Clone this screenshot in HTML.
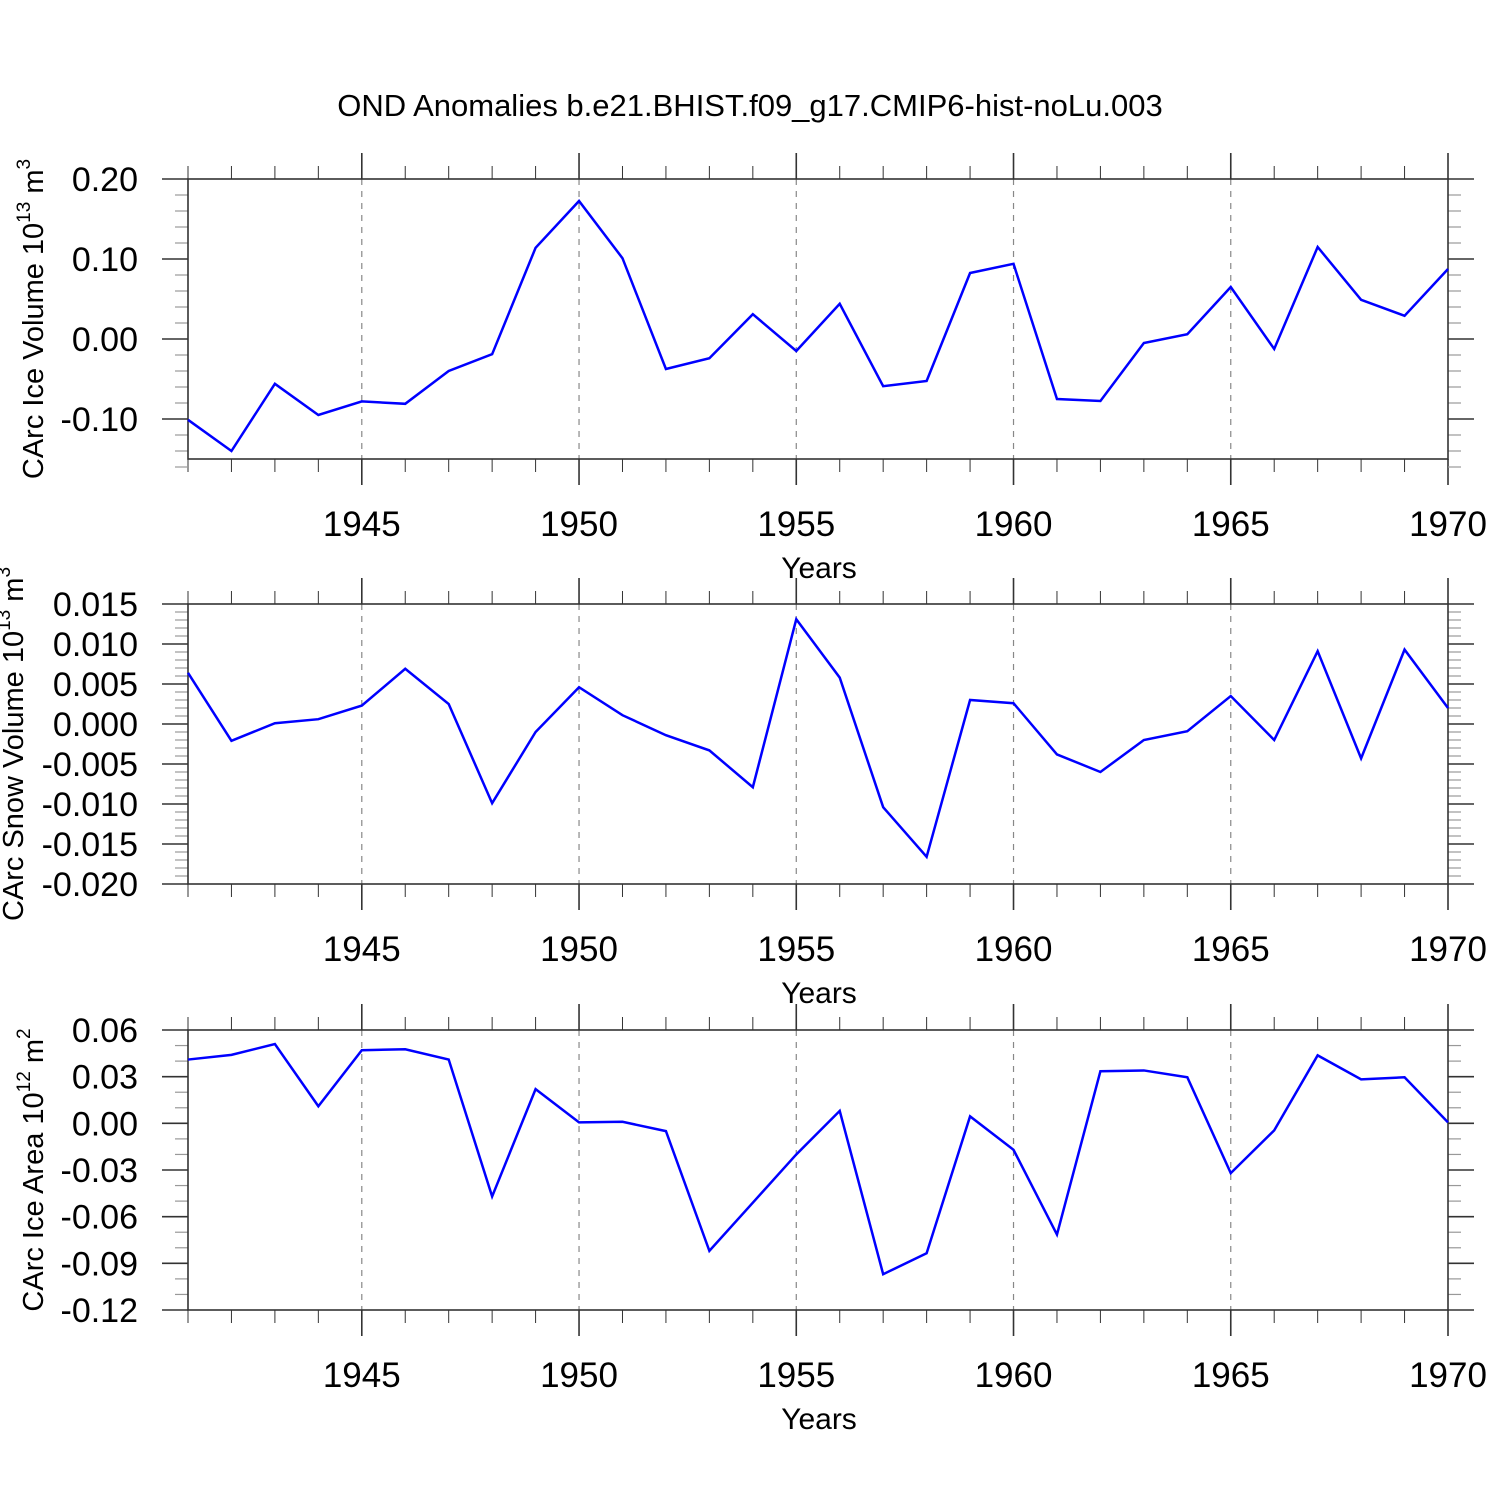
<!DOCTYPE html>
<html><head><meta charset="utf-8"><style>
html,body{margin:0;padding:0;background:#fff}
svg{display:block;font-family:"Liberation Sans",sans-serif}
</style></head><body>
<svg id="chart" width="1500" height="1500" viewBox="0 0 1500 1500" xmlns="http://www.w3.org/2000/svg">
<rect width="1500" height="1500" fill="#fff"/>
<text x="750" y="116" font-size="31" text-anchor="middle">OND Anomalies b.e21.BHIST.f09_g17.CMIP6-hist-noLu.003</text>
</svg>
<script>
const years = [1941,1942,1943,1944,1945,1946,1947,1948,1949,1950,1951,1952,1953,1954,1955,1956,1957,1958,1959,1960,1961,1962,1963,1964,1965,1966,1967,1968,1969,1970];
const xTickLabels = ["1945","1950","1955","1960","1965","1970"];
const iceVolume = [-0.101,-0.14,-0.056,-0.095,-0.078,-0.081,-0.04,-0.019,0.114,0.1725,0.101,-0.0375,-0.024,0.031,-0.015,0.044,-0.059,-0.0525,0.0825,0.094,-0.075,-0.0775,-0.005,0.006,0.065,-0.0125,0.115,0.049,0.029,0.0875];
const snowVolume = [0.0064,-0.0021,0.0001,0.0006,0.0023,0.0069,0.0025,-0.0099,-0.001,0.0046,0.0011,-0.0014,-0.0033,-0.0079,0.0131,0.0058,-0.0104,-0.0166,0.003,0.0026,-0.0038,-0.006,-0.002,-0.0009,0.0035,-0.002,0.0091,-0.0043,0.0093,0.002];
const iceArea = [0.041,0.044,0.051,0.011,0.047,0.0476,0.041,-0.047,0.022,0.0006,0.001,-0.005,-0.082,-0.051,-0.02,0.008,-0.097,-0.0835,0.0045,-0.017,-0.0715,0.0335,0.034,0.0296,-0.032,-0.0045,0.0437,0.0283,0.0296,0.0006];
const iceVolTicks = ["0.20","0.10","0.00","-0.10"];
const snowVolTicks = ["0.015","0.010","0.005","0.000","-0.005","-0.010","-0.015","-0.020"];
const iceAreaTicks = ["0.06","0.03","0.00","-0.03","-0.06","-0.09","-0.12"];

const NS="http://www.w3.org/2000/svg";
const svg=document.getElementById('chart');
const X0=188,X1=1448;
function xs(v){return X0+(v-1941)/(1970-1941)*(X1-X0);}
function mk(tag,attrs,parent){const e=document.createElementNS(NS,tag);for(const k in attrs)e.setAttribute(k,attrs[k]);(parent||svg).appendChild(e);return e;}

function panel(name,top,ymax,ymin,major,minorN,values,ticks,title,sup,tailUnit,supUnit,titleX){
  const bot=top+280;
  const g=mk('g',{});
  
  
  const ys=v=>top+(ymax-v)/(ymax-ymin)*280;
  for(let y=1945;y<=1965;y+=5){
    const l=mk('line',{x1:xs(y),x2:xs(y),y1:top,y2:bot,stroke:'#888','stroke-width':1.2,'stroke-dasharray':'6,6'},g);
    
    
  }
  for(let y=1941;y<=1970;y++){
    const maj=y%5===0, len=maj?26:13, x=xs(y);
    mk('line',{x1:x,x2:x,y1:top,y2:top-len,stroke:'#333','stroke-width':maj?1.6:1},g);
    mk('line',{x1:x,x2:x,y1:bot,y2:bot+len,stroke:'#333','stroke-width':maj?1.6:1},g);
  }
  xTickLabels.forEach(t=>{
    const tx=mk('text',{x:xs(+t),y:bot+77,'font-size':35,'text-anchor':'middle'},g);
    tx.textContent=t;
    
    
  });
  const xt=mk('text',{x:819,y:bot+119,'font-size':30,'text-anchor':'middle'},g);
  xt.textContent='Years';
  
  
  const step=major/minorN;
  const n=Math.round((ymax-ymin)/step);
  for(let i=0;i<=n;i++){
    const v=ymax-i*step, y=ys(v), maj=i%minorN===0, len=maj?26:13;
    mk('line',{x1:X0,x2:X0-len,y1:y,y2:y,stroke:maj?'#333':'#999','stroke-width':maj?1.6:1.2},g);
    mk('line',{x1:X1,x2:X1+len,y1:y,y2:y,stroke:maj?'#333':'#999','stroke-width':maj?1.6:1.2},g);
  }
  ticks.forEach((t,i)=>{
    const tx=mk('text',{x:138,y:ys(ymax-i*major)+12,'font-size':34,'text-anchor':'end'},g);
    tx.textContent=t;
    
    
  });
  const fr=mk('rect',{x:X0,y:top,width:X1-X0,height:280,fill:'none',stroke:'#333','stroke-width':1.6},g);
  
  
  const pts=values.map((v,i)=>xs(years[i])+','+ys(v)).join(' ');
  const pl=mk('polyline',{points:pts,fill:'none',stroke:'#0000ff','stroke-width':2.5,'stroke-linejoin':'miter'},g);
  
  
  const cy=top+140;
  const yt=mk('text',{x:0,y:0,'font-size':29,'text-anchor':'middle',transform:`translate(${titleX},${cy}) rotate(-90)`},g);
  
  
  yt.innerHTML=`${title} 10<tspan dy="-13" font-size="19">${sup}</tspan><tspan dy="13"> ${tailUnit}</tspan><tspan dy="-13" font-size="19">${supUnit}</tspan>`;
}
panel('ice-volume',179,0.20,-0.15,0.1,5,iceVolume,iceVolTicks,'CArc Ice Volume','13','m','3',43);
panel('snow-volume',604,0.015,-0.020,0.005,5,snowVolume,snowVolTicks,'CArc Snow Volume','13','m','3',23);
panel('ice-area',1030,0.06,-0.12,0.03,3,iceArea,iceAreaTicks,'CArc Ice Area','12','m','2',43);
</script>
</body></html>
